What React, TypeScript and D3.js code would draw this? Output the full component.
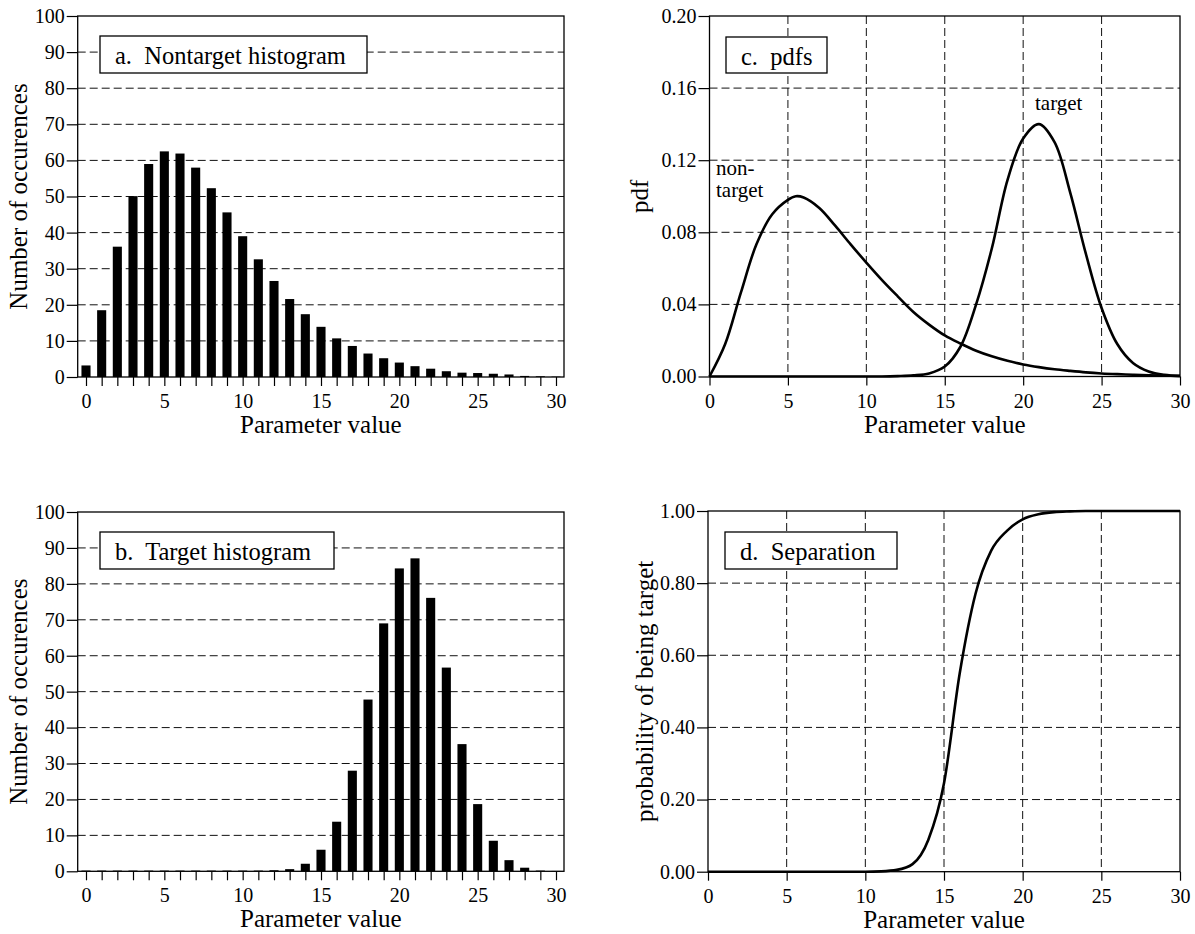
import React, { useEffect, useRef } from "react";
import * as d3 from "d3";

// histogram bins (parameter value)
const binValues = [0, 1, 2, 3, 4, 5, 6, 7, 8, 9, 10, 11, 12, 13, 14, 15, 16, 17, 18, 19, 20, 21, 22, 23, 24, 25, 26, 27, 28, 29, 30];
const nontargetCounts = [3.2, 18.5, 36.1, 50.1, 59.0, 62.5, 61.9, 58.0, 52.3, 45.6, 39.0, 32.6, 26.6, 21.6, 17.4, 13.9, 10.7, 8.6, 6.5, 5.2, 4.0, 3.0, 2.3, 1.6, 1.2, 1.1, 0.9, 0.7, 0.3, 0.2, 0.1];
const targetCounts = [0.2, 0.2, 0.2, 0.2, 0.2, 0.2, 0.2, 0.2, 0.2, 0.2, 0.2, 0.2, 0.3, 0.6, 2.1, 6.0, 13.8, 28.0, 47.8, 69.0, 84.3, 87.1, 76.1, 56.7, 35.4, 18.7, 8.5, 3.1, 1.0, 0.2, 0.1];

// pdf curves
const nontargetPdfX = [0, 1, 2, 3, 4, 5, 5.5, 6, 7, 8, 9, 10, 11, 12, 13, 14, 15, 16, 17, 18, 19, 20, 21, 22, 23, 24, 25, 26, 27, 28, 29, 30];
const nontargetPdf = [0, 0.018, 0.0465, 0.0735, 0.09, 0.098, 0.1, 0.0993, 0.0935, 0.0838, 0.0733, 0.0632, 0.0535, 0.0445, 0.0358, 0.0288, 0.0228, 0.0183, 0.0143, 0.0112, 0.0087, 0.0067, 0.0052, 0.004, 0.0031, 0.0023, 0.0017, 0.0013, 0.001, 0.0007, 0.0005, 0.0004];
const targetPdfX = [0, 1, 2, 3, 4, 5, 6, 7, 8, 9, 10, 11, 12, 13, 14, 15, 16, 17, 18, 19, 20, 21, 22, 23, 24, 25, 26, 27, 28, 29, 30];
const targetPdf = [0, 0, 0, 0, 0, 0, 0, 0, 0, 0, 0, 0, 0.0002, 0.0006, 0.0017, 0.0055, 0.0165, 0.04, 0.071, 0.109, 0.132, 0.14, 0.13, 0.102, 0.068, 0.038, 0.018, 0.0075, 0.0028, 0.0009, 0.0002];

// separation curve
const separationX = [0, 1, 2, 3, 4, 5, 6, 7, 8, 9, 10, 11, 12, 13, 14, 15, 16, 17, 18, 19, 20, 21, 22, 23, 24, 25, 26, 27, 28, 29, 30];
const separationProb = [0, 0, 0, 0, 0, 0, 0, 0, 0, 0, 0, 0.001, 0.005, 0.021, 0.088, 0.245, 0.55, 0.77, 0.89, 0.945, 0.977, 0.991, 0.997, 0.999, 1, 1, 1, 1, 1, 1, 1];

// tick labels
const countTicks = [0, 10, 20, 30, 40, 50, 60, 70, 80, 90, 100];
const paramTicks = [0, 5, 10, 15, 20, 25, 30];
const pdfTicks = [0, 0.04, 0.08, 0.12, 0.16, 0.2];
const probTicks = [0, 0.2, 0.4, 0.6, 0.8, 1.0];

const FONT = "'Liberation Serif', 'DejaVu Serif', serif";

type Panel = { left: number; right: number; top: number; bottom: number };

const App = () => {
  const ref = useRef<SVGSVGElement>(null);

  useEffect(() => {
    document.body.style.margin = "0";
    const svg = d3.select(ref.current);
    svg.selectAll("*").remove();

    const frame = (p: Panel, x: any, y: any, opts: any) => {
      const g = svg.append("g");
      // dashed grid
      g.selectAll(".gy")
        .data(opts.gridY)
        .enter()
        .append("line")
        .attr("x1", p.left)
        .attr("x2", p.right)
        .attr("y1", (d: number) => y(d))
        .attr("y2", (d: number) => y(d))
        .attr("stroke", "#111")
        .attr("stroke-width", 1)
        .attr("stroke-dasharray", "8,4");
      g.selectAll(".gx")
        .data(opts.gridX)
        .enter()
        .append("line")
        .attr("x1", (d: number) => x(d))
        .attr("x2", (d: number) => x(d))
        .attr("y1", p.top)
        .attr("y2", p.bottom)
        .attr("stroke", "#111")
        .attr("stroke-width", 1)
        .attr("stroke-dasharray", "8,4");
      return g;
    };

    const axes = (p: Panel, x: any, y: any, opts: any) => {
      svg.append("rect")
        .attr("x", p.left)
        .attr("y", p.top)
        .attr("width", p.right - p.left)
        .attr("height", p.bottom - p.top)
        .attr("fill", "none")
        .attr("stroke", "#000")
        .attr("stroke-width", 1.3);

      const ya = svg.append("g")
        .attr("transform", `translate(${p.left},0)`)
        .call(d3.axisLeft(y).tickValues(opts.yTicks).tickSize(11).tickSizeOuter(0).tickPadding(2).tickFormat(opts.yFmt));
      ya.select(".domain").remove();
      ya.attr("font-size", 20).attr("font-family", null);
      ya.selectAll("text").style("font-family", FONT);
      ya.selectAll("line").attr("stroke-width", 1.2);

      const xa = svg.append("g")
        .attr("transform", `translate(0,${p.bottom})`)
        .call(d3.axisBottom(x).tickValues(opts.xTicks).tickSize(9).tickSizeOuter(0).tickPadding(8)
          .tickFormat((d: any) => (d % 5 === 0 ? String(d) : "")));
      xa.select(".domain").remove();
      xa.attr("font-size", 20).attr("font-family", null);
      xa.selectAll("text").style("font-family", FONT);
      xa.selectAll("line").attr("stroke-width", 1.2);

      svg.append("text")
        .attr("x", (p.left + p.right) / 2)
        .attr("y", p.bottom + 56)
        .attr("text-anchor", "middle")
        .style("font-family", FONT)
        .attr("font-size", 25)
        .text("Parameter value");

      svg.append("text")
        .attr("transform", `translate(${opts.yTitleX},${(p.top + p.bottom) / 2}) rotate(-90)`)
        .attr("text-anchor", "middle")
        .style("font-family", FONT)
        .attr("font-size", 25)
        .text(opts.yTitle);

      const b = opts.box;
      svg.append("rect")
        .attr("x", b.x)
        .attr("y", b.y)
        .attr("width", b.w)
        .attr("height", b.h)
        .attr("fill", "#fff")
        .attr("stroke", "#000")
        .attr("stroke-width", 1.3);
      svg.append("text")
        .attr("x", b.x + 15)
        .attr("y", b.y + 28)
        .style("font-family", FONT)
        .attr("font-size", 24.5)
        .style("white-space", "pre")
        .text(b.label);
    };

    // ---- a & b: histograms
    const histPanels: Panel[] = [
      { left: 77.7, right: 564, top: 16, bottom: 377 },
      { left: 77.7, right: 564, top: 512, bottom: 871.3 },
    ];
    const histData = [nontargetCounts, targetCounts];
    const histLabels = ["a.  Nontarget histogram", "b.  Target histogram"];
    const histBoxes = [
      { x: 100, y: 36, w: 267, h: 37 },
      { x: 100, y: 532, w: 234, h: 37 },
    ];

    histPanels.forEach((p, i) => {
      const x = d3.scaleLinear().domain([0, 30]).range([86, 556]);
      const y = d3.scaleLinear().domain([0, 100]).range([p.bottom, p.top]);
      frame(p, x, y, { gridY: countTicks.slice(1, -1), gridX: [] });
      const bw = x(0.58) - x(0);
      svg.append("g")
        .selectAll(".bar")
        .data(binValues)
        .enter()
        .append("rect")
        .attr("class", "bar")
        .attr("x", (d) => x(d) - bw / 2)
        .attr("y", (d, j) => y(histData[i][j]))
        .attr("width", bw)
        .attr("height", (d, j) => p.bottom - y(histData[i][j]))
        .attr("fill", "#000");
      axes(p, x, y, {
        yTicks: countTicks,
        yFmt: (d: any) => String(d),
        xTicks: binValues,
        yTitle: "Number of occurences",
        yTitleX: 27,
        box: { ...histBoxes[i], label: histLabels[i] },
      });
    });

    // ---- c: pdfs
    const pc: Panel = { left: 709.5, right: 1180, top: 16, bottom: 376.5 };
    const xc = d3.scaleLinear().domain([0, 30]).range([pc.left, pc.right]);
    const yc = d3.scaleLinear().domain([0, 0.2]).range([pc.bottom, pc.top]);
    frame(pc, xc, yc, { gridY: pdfTicks.slice(1, -1), gridX: paramTicks.slice(1, -1) });
    const pdfLine = d3.line<number>()
      .x((d) => xc(d))
      .curve(d3.curveCatmullRom.alpha(0.5));
    svg.append("path")
      .attr("d", pdfLine.y((d, j) => yc(nontargetPdf[j]))(nontargetPdfX))
      .attr("fill", "none")
      .attr("stroke", "#000")
      .attr("stroke-width", 2.6);
    svg.append("path")
      .attr("d", pdfLine.y((d, j) => yc(targetPdf[j]))(targetPdfX))
      .attr("fill", "none")
      .attr("stroke", "#000")
      .attr("stroke-width", 2.6);
    axes(pc, xc, yc, {
      yTicks: pdfTicks,
      yFmt: d3.format(".2f"),
      xTicks: paramTicks,
      yTitle: "pdf",
      yTitleX: 648,
      box: { x: 726, y: 37, w: 101, h: 36, label: "c.  pdfs" },
    });
    const lbl = (t: string, x: number, y: number) =>
      svg.append("text")
        .attr("x", x)
        .attr("y", y)
        .style("font-family", FONT)
        .attr("font-size", 21)
        .text(t);
    lbl("non-", 716, 175);
    lbl("target", 716, 197);
    lbl("target", 1035, 110);

    // ---- d: separation
    const pd: Panel = { left: 708, right: 1180, top: 511, bottom: 871.7 };
    const xd = d3.scaleLinear().domain([0, 30]).range([pd.left, pd.right]);
    const yd = d3.scaleLinear().domain([0, 1]).range([pd.bottom, pd.top]);
    frame(pd, xd, yd, { gridY: probTicks.slice(1, -1), gridX: paramTicks.slice(1, -1) });
    svg.append("path")
      .attr("d", d3.line<number>()
        .x((d) => xd(d))
        .y((d, j) => yd(separationProb[j]))
        .curve(d3.curveMonotoneX)(separationX))
      .attr("fill", "none")
      .attr("stroke", "#000")
      .attr("stroke-width", 2.6);
    axes(pd, xd, yd, {
      yTicks: probTicks,
      yFmt: d3.format(".2f"),
      xTicks: paramTicks,
      yTitle: "probability of being target",
      yTitleX: 653,
      box: { x: 725, y: 532, w: 172, h: 37, label: "d.  Separation" },
    });
  }, []);

  return <svg ref={ref} width={1195} height={934} style={{ display: "block", background: "#fff", fontFamily: FONT }}></svg>;
};

export default App;
